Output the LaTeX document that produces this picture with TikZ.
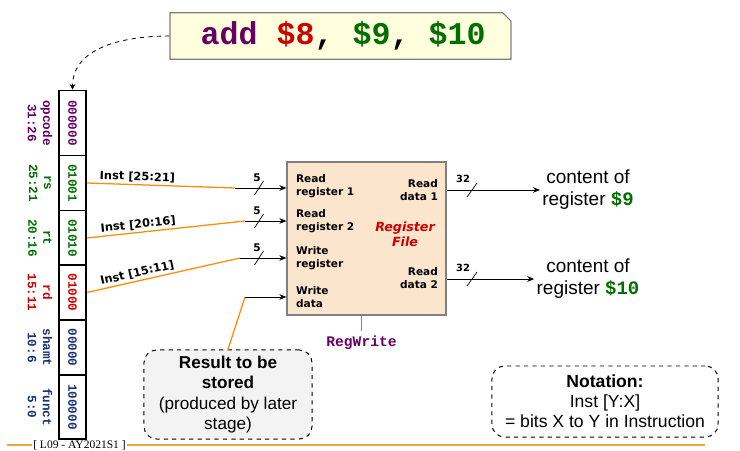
\documentclass[tikz,border=0pt]{standalone}
\usepackage{fontspec}
\setmainfont{Liberation Sans}
\setmonofont{Liberation Mono}
\newfontfamily\verd{DejaVu Sans}
\newfontfamily\timesf{Liberation Serif}
\usetikzlibrary{shapes.misc,arrows.meta}
\definecolor{opPurple}{RGB}{102,0,102}
\definecolor{regRed}{RGB}{204,0,0}
\definecolor{regGreen}{RGB}{0,110,0}
\definecolor{regNavy}{RGB}{25,50,115}
\definecolor{wireOrange}{RGB}{255,140,0}
\definecolor{footOrange}{RGB}{245,160,70}
\definecolor{rfPeach}{RGB}{252,229,205}
\definecolor{noteYellow}{RGB}{255,255,221}
\definecolor{boxGray}{RGB}{243,243,243}
\definecolor{ctrlBlue}{RGB}{120,120,255}
\begin{document}
\begin{tikzpicture}[x=0.025cm, y=-0.025cm,
    field/.style={draw, line width=1.1pt, rotate=-90, minimum height=0.675cm, inner sep=0pt, font=\ttfamily\bfseries\fontsize{9}{10}\selectfont},
    fieldlbl/.style={rotate=-90, align=center, font=\ttfamily\bfseries\fontsize{9}{10.7}\selectfont},
    portlbl/.style={align=left, inner sep=2pt, font=\verd\bfseries\fontsize{7.5}{9}\selectfont},
    instlbl/.style={inner sep=1.5pt, font=\verd\bfseries\fontsize{8.1}{9}\selectfont},
    buslbl/.style={inner sep=0pt, font=\verd\bfseries\fontsize{7.5}{9}\selectfont},
    wire/.style={draw=wireOrange, line width=0.9pt},
    bus/.style={-{Stealth[length=5pt,width=4pt]}, line width=0.6pt},
    callout/.style={draw, dashed, rounded corners=9pt, line width=0.7pt, align=center, font=\fontsize{12.2}{14.5}\selectfont}]

    \useasboundingbox (0,0) rectangle (740,451);

    % the instruction
    \node[chamfered rectangle, chamfered rectangle corners=north east, chamfered rectangle xsep=3pt, chamfered rectangle ysep=3pt,
          draw=gray, fill=noteYellow, line width=0.8pt, minimum width=8.525cm, minimum height=1.1cm,
          font=\ttfamily\bfseries\fontsize{22.5}{24}\selectfont] at (340.5,36) (ins)
        {\,{\color{opPurple}add} {\color{regRed}\$8}, {\color{regGreen}\$9}, {\color{regGreen}\$10}};

    % instruction fields
    \node[field, minimum width=1.625cm, text=opPurple] at (72.5,123) (op) {000000};
    \node[field, minimum width=1.375cm, text=regGreen] at (72.5,183) (rs) {01001};
    \node[field, minimum width=1.375cm, text=regGreen] at (72.5,238) (rt) {01010};
    \node[field, minimum width=1.375cm, text=regRed] at (72.5,292.5) (rd) {01000};
    \node[field, minimum width=1.375cm, text=regNavy] at (72.5,347.5) (sh) {00000};
    \node[field, minimum width=1.6cm, text=regNavy] at (72.5,407) (fn) {100000};

    \node[fieldlbl, text=opPurple] at (40,123) (opl) {opcode\\31:26};
    \node[fieldlbl, text=regGreen] at (40,183) (rsl) {rs\\25:21};
    \node[fieldlbl, text=regGreen] at (40,238) (rtl) {rt\\20:16};
    \node[fieldlbl, text=regRed] at (40,292.5) (rdl) {rd\\15:11};
    \node[fieldlbl, text=regNavy] at (40,347.5) (shl) {shamt\\10:6};
    \node[fieldlbl, text=regNavy] at (40,407) (fnl) {funct\\5:0};

    \draw[dashed, line width=0.6pt, -{Stealth[length=4pt,width=4pt]}] (ins.west) to[out=180, in=90] (op.west);

    % register file
    \node[draw=gray, fill=rfPeach, line width=0.8pt, minimum width=3.975cm, minimum height=3.825cm] at (366.5,238.5) (rf) {};
    \node[portlbl, anchor=west] at (293,186) (rr1) {Read\\register 1};
    \node[portlbl, anchor=west] at (293,221) (rr2) {Read\\register 2};
    \node[portlbl, anchor=west] at (293,258) (wr) {Write\\register};
    \node[portlbl, anchor=west] at (293,297) (wd) {Write\\data};
    \node[portlbl, align=right, anchor=east] at (441,190) (rd1) {Read\\data 1};
    \node[portlbl, align=right, anchor=east] at (441,278) (rd2) {Read\\data 2};
    \node[align=center, text=regRed, font=\verd\bfseries\itshape\fontsize{9}{10.5}\selectfont] at (405,234) (rfname) {Register\\File};

    % inputs
    \coordinate (j1) at (235,188);
    \coordinate (j2) at (245,221);
    \coordinate (j3) at (240,258);
    \coordinate (j4) at (245,297);
    \draw[wire] (rs.north) -- node[instlbl, pos=.34, above, sloped] {Inst [25:21]} (j1);
    \draw[wire] (rt.north) -- node[instlbl, pos=.33, above, sloped] {Inst [20:16]} (j2);
    \draw[wire] (rd.north) -- node[instlbl, pos=.34, above, sloped] {Inst [15:11]} (j3);
    \draw[bus] (j1) -- (j1 -| rf.west);
    \draw[bus] (j2) -- (j2 -| rf.west);
    \draw[bus] (j3) -- (j3 -| rf.west);
    \foreach \y in {188,221,258} {
        \draw[line width=0.5pt] (254.5,\y+7) -- (263.5,\y-7);
        \node[buslbl] at (257,\y-10) {5};
    }

    % write data
    \node[callout, fill=boxGray, minimum width=4.2cm, minimum height=2.225cm] at (228,394.5) (res)
        {\textbf{Result to be}\\\textbf{stored}\\(produced by later\\stage)};
    \draw[wire] (res.north) -- (j4);
    \draw[bus] (j4) -- (j4 -| rf.west);

    % RegWrite
    \node[text=opPurple, font=\ttfamily\bfseries\fontsize{10.4}{12}\selectfont] at (361.5,343) (rw) {RegWrite};
    \draw[ctrlBlue, line width=0.6pt] (rw.north) -- (rw.north |- rf.south);

    % outputs
    \node[align=center, inner sep=1.5pt, font=\fontsize{13.5}{15.6}\selectfont] at (588,190) (c1)
        {content of\\register {\ttfamily\bfseries\color{regGreen}\$9}};
    \node[align=center, inner sep=1.5pt, font=\fontsize{13.5}{15.6}\selectfont] at (588,279) (c2)
        {content of\\register {\ttfamily\bfseries\color{regGreen}\$10}};
    \draw[bus] (rf.east |- c1) -- (c1.west);
    \draw[bus] (rf.east |- c2) -- (c2.west);
    \foreach \y/\n in {190/c1,279/c2} {
        \draw[line width=0.5pt] (467,\y+7) -- (477,\y-7);
        \node[buslbl, font=\verd\bfseries\fontsize{7}{8}\selectfont] at (463,\y-11) {32};
    }

    % notation
    \node[callout, minimum width=5.65cm, minimum height=1.775cm, font=\fontsize{12.5}{14.3}\selectfont] at (605,401.5) (nt)
        {\textbf{Notation:}\\Inst [Y:X]\\= bits X to Y in Instruction};

    % footer
    \node[font=\timesf\fontsize{8.2}{9}\selectfont, inner sep=1pt] at (79.5,445) (ft) {[ L09 - AY2021S1 ]};
    \coordinate (fl) at (7,445);
    \coordinate (fr) at (705,445);
    \draw[footOrange, line width=1.2pt] (fl) -- (ft.west);
    \draw[footOrange, line width=1.2pt] (ft.east) -- (fr);
\end{tikzpicture}
\end{document}
